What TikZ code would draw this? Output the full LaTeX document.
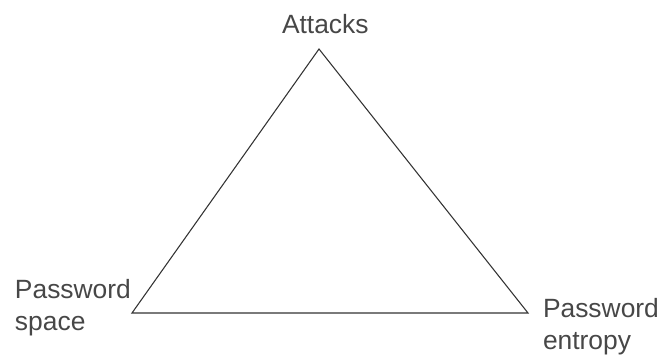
\documentclass[tikz,border=0pt]{standalone}
\usepackage{fontspec}
\setmainfont{Liberation Sans}
\begin{document}
\begin{tikzpicture}[x=0.75pt,y=-0.75pt,
  lbl/.style={inner sep=0pt,outer sep=0pt,text=black!72,font=\fontsize{19.8pt}{24pt}\selectfont,align=left},
  edge/.style={draw=black!80,line width=0.8pt,line join=miter}]
\useasboundingbox (0,0) rectangle (672,354);
\coordinate (apex) at (319,49);
\coordinate (bl) at (132,313);
\coordinate (br) at (528,313);
\draw[edge] (apex) -- (bl) -- (br) -- cycle;
\node[lbl,anchor=base west] (att) at (282,33) {Attacks};
\node[lbl,anchor=base west] (ps) at (15,330) {Password\\space};
\node[lbl,anchor=base west] (pe) at (543,349) {Password\\entropy};
\end{tikzpicture}
\end{document}
